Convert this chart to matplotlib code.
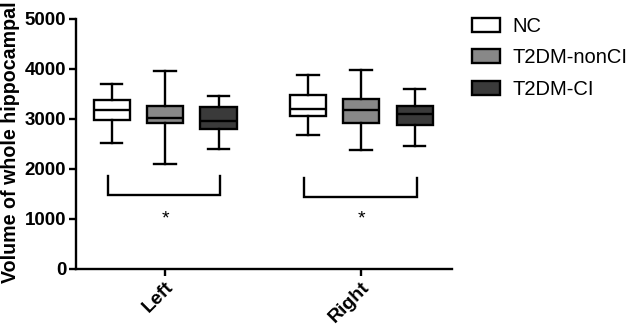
import matplotlib
matplotlib.use("Agg")
import matplotlib.pyplot as plt
from matplotlib.patches import Patch

plt.rcParams['font.family'] = ['Liberation Sans', 'DejaVu Sans']

sides = ["Left", "Right"]
groups = ["NC", "T2DM-nonCI", "T2DM-CI"]
colors = ["#ffffff", "#888888", "#3a3a3a"]

# whisker low, Q1, median, Q3, whisker high for each group, per side
nc_stats = [[2523, 2977, 3178, 3378, 3692], [2684, 3057, 3198, 3471, 3885]]
noncI_stats = [[2096, 2911, 3011, 3264, 3959], [2376, 2917, 3171, 3391, 3972]]
ci_stats = [[2403, 2804, 2964, 3244, 3451], [2457, 2877, 3104, 3258, 3605]]
all_stats = [nc_stats, noncI_stats, ci_stats]

bracket_top = [1856, 1822]
bracket_bottom = [1475, 1442]
star_level = [1000, 1000]

fig = plt.figure(figsize=(6.3, 3.27), dpi=100)
ax = fig.add_axes([0.1206, 0.1783, 0.5969, 0.7636])

offsets = [-0.272, 0.0, 0.273]
width = 0.184
for gi, (g, c) in enumerate(zip(groups, colors)):
    stats = []
    pos = []
    for si in range(len(sides)):
        lo, q1, med, q3, hi = all_stats[gi][si]
        stats.append(dict(whislo=lo, q1=q1, med=med, q3=q3, whishi=hi, fliers=[]))
        pos.append(si + 1 + offsets[gi])
    ax.bxp(stats, positions=pos, widths=width, patch_artist=True, showfliers=False,
           boxprops=dict(facecolor=c, edgecolor='black', linewidth=1.7),
           medianprops=dict(color='black', linewidth=1.7),
           whiskerprops=dict(color='black', linewidth=1.7),
           capprops=dict(color='black', linewidth=1.7),
           capwidths=width * 0.6)

for si in range(len(sides)):
    x0 = si + 1 + offsets[0] - 0.02
    x1 = si + 1 + offsets[2] + 0.01
    ax.plot([x0, x0, x1, x1], [bracket_top[si], bracket_bottom[si], bracket_bottom[si], bracket_top[si]],
            color='black', linewidth=1.7, solid_joinstyle='miter')
    ax.text(si + 1, star_level[si], "*", ha='center', va='center', fontsize=14)

ax.set_xlim(0.546, 2.464)
ax.set_ylim(0, 5000)
ax.set_yticks([0, 1000, 2000, 3000, 4000, 5000])
ax.set_xticks([1, 2])
ax.set_xticklabels(sides, rotation=45, ha='right', rotation_mode='anchor', fontsize=14, fontweight='bold')
for lab in ax.get_yticklabels():
    lab.set_fontsize(13.5)
    lab.set_fontweight('bold')
ax.tick_params(axis='both', width=1.7, length=5, direction='out', pad=2)
ax.spines['top'].set_visible(False)
ax.spines['right'].set_visible(False)
ax.spines['left'].set_linewidth(1.7)
ax.spines['bottom'].set_linewidth(1.7)
ax.set_ylabel("Volume of whole hippocampal", fontsize=14.1, fontweight='bold')
ax.yaxis.set_label_coords(-0.148, 0.505)

handles = [Patch(facecolor=c, edgecolor='black', linewidth=1.7) for c in colors]
fig.legend(handles, groups, loc='upper left', bbox_to_anchor=(0.72, 1.004), frameon=False,
           fontsize=14.5, handlelength=1.4, handleheight=0.7, labelspacing=0.62, handletextpad=0.6)

fig.savefig("out.png", dpi=100)
